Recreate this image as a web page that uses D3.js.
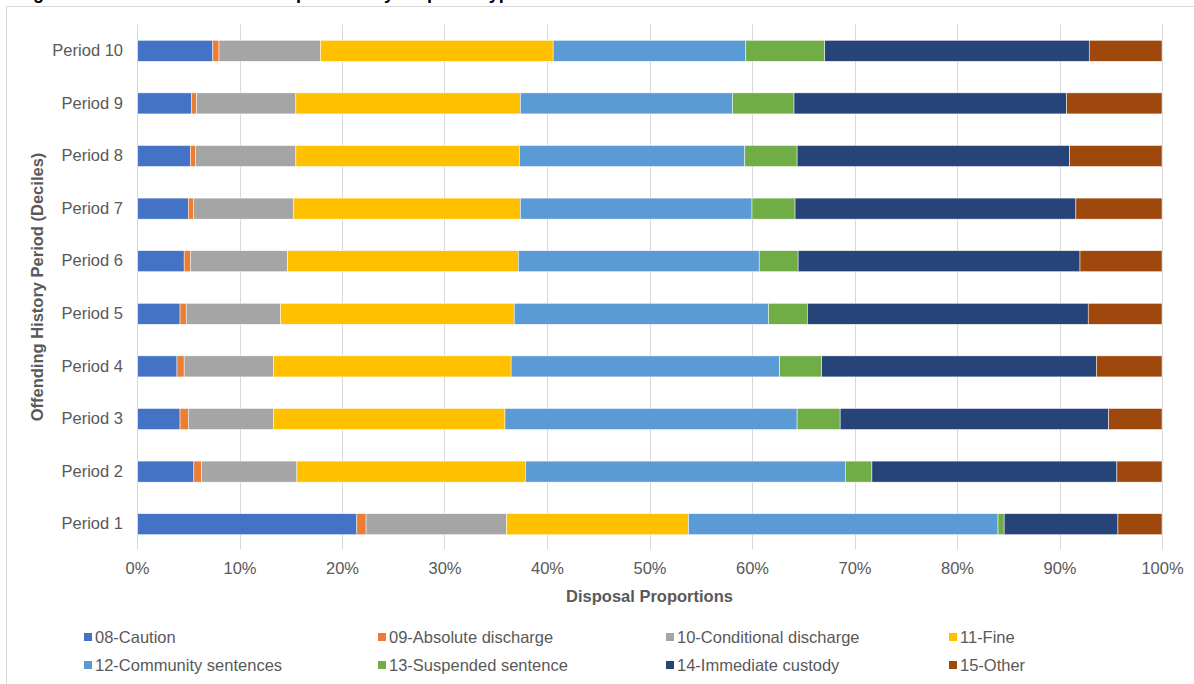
<!DOCTYPE html>
<html>
<head>
<meta charset="utf-8">
<script src="https://cdn.jsdelivr.net/npm/d3@7"></script>
<style>
  html, body { margin: 0; padding: 0; background: #fff; }
  svg { display: block; font-family: "Liberation Sans", Arial, sans-serif; }
</style>
</head>
<body>
<svg id="chart" width="1194" height="684"></svg>
<script>
// Offending history period (deciles), top to bottom
const periods = ["Period 10", "Period 9", "Period 8", "Period 7", "Period 6",
                 "Period 5", "Period 4", "Period 3", "Period 2", "Period 1"];

// Disposal types (series)
const disposals = ["08-Caution", "09-Absolute discharge", "10-Conditional discharge", "11-Fine",
                   "12-Community sentences", "13-Suspended sentence", "14-Immediate custody", "15-Other"];

// Share of disposals (%) per period, one array per disposal type, in the order of `periods`
const caution     = [7.4, 5.3, 5.2, 5.0, 4.6, 4.2, 3.9, 4.2, 5.55, 21.45];
const absolute    = [0.6, 0.5, 0.5, 0.5, 0.6, 0.6, 0.7, 0.8, 0.75, 0.9];
const conditional = [9.9, 9.7, 9.8, 9.8, 9.5, 9.2, 8.7, 8.3, 9.3, 13.7];
const fine        = [22.7, 21.9, 21.8, 22.1, 22.5, 22.8, 23.2, 22.6, 22.3, 17.75];
const community   = [18.8, 20.7, 22.0, 22.6, 23.5, 24.8, 26.2, 28.5, 31.2, 30.2];
const suspended   = [7.7, 6.0, 5.1, 4.2, 3.8, 3.8, 4.1, 4.2, 2.6, 0.6];
const custody     = [25.8, 26.6, 26.6, 27.4, 27.5, 27.4, 26.8, 26.2, 23.9, 11.1];
const other       = [7.1, 9.3, 9.0, 8.4, 8.0, 7.2, 6.4, 5.2, 4.4, 4.3];

const xTicks = [0, 10, 20, 30, 40, 50, 60, 70, 80, 90, 100];

const colors = ["#4472C4", "#ED7D31", "#A5A5A5", "#FFC000",
                "#5B9BD5", "#70AD47", "#264478", "#9E480E"];

const seriesValues = [caution, absolute, conditional, fine, community, suspended, custody, other];

// Build row objects for d3.stack
const rows = periods.map((p, i) => {
  const r = { period: p };
  disposals.forEach((d, k) => { r[d] = seriesValues[k][i]; });
  return r;
});

const stacked = d3.stack().keys(disposals)(rows);

const svg = d3.select("#chart");
const textColor = "#595959";
const gridColor = "#D9D9D9";

// Figure title (runs above the chart frame)
svg.append("text")
  .attr("x", 17).attr("y", -1.5)
  .attr("font-size", 18).attr("font-weight", "bold").attr("fill", "#000")
  .text("Figure 4: Sentence Outcome Proportions by Disposal Type");

// Chart frame
svg.append("rect")
  .attr("x", 6.5).attr("y", 6.5).attr("width", 1200).attr("height", 700)
  .attr("fill", "none").attr("stroke", gridColor).attr("stroke-width", 1);

const x = d3.scaleLinear().domain([0, 100]).range([137, 1162]);
const y = d3.scaleBand().domain(periods).range([24.5, 550.5]).paddingInner(0.6).paddingOuter(0.3);

// Vertical gridlines
svg.append("g").selectAll("line").data(xTicks).join("line")
  .attr("x1", d => Math.round(x(d)) + 0.5).attr("x2", d => Math.round(x(d)) + 0.5)
  .attr("y1", 24.5).attr("y2", 549.5)
  .attr("stroke", gridColor).attr("stroke-width", 1);

// Stacked bars
svg.append("g").selectAll("g").data(stacked).join("g")
  .attr("fill", (d, i) => colors[i])
  .selectAll("rect").data(d => d).join("rect")
  .attr("x", d => x(d[0]))
  .attr("width", d => x(d[1]) - x(d[0]))
  .attr("y", d => y(d.data.period))
  .attr("height", y.bandwidth())
  .attr("stroke", "#fff").attr("stroke-width", 0.5);

// X axis labels
const xAxis = d3.axisBottom(x).tickValues(xTicks).tickFormat(d => d + "%").tickSize(0);
const gx = svg.append("g").attr("transform", "translate(0,559)").call(xAxis);
gx.select(".domain").remove();
gx.selectAll("text").attr("font-size", 16.5).attr("fill", textColor)
  .attr("font-family", "Liberation Sans, Arial, sans-serif");

// Y axis labels
const yAxis = d3.axisLeft(y).tickSize(0).tickPadding(14);
const gy = svg.append("g").attr("transform", "translate(137,0)").call(yAxis);
gy.select(".domain").attr("stroke", gridColor).attr("d", "M0.5,24.5V549.5");
gy.selectAll("text").attr("font-size", 16.5).attr("fill", textColor)
  .attr("font-family", "Liberation Sans, Arial, sans-serif");

// Axis titles
svg.append("text")
  .attr("x", x(50)).attr("y", 602)
  .attr("text-anchor", "middle").attr("font-size", 16.5).attr("font-weight", "bold")
  .attr("fill", textColor).text("Disposal Proportions");

svg.append("text")
  .attr("transform", "translate(43,287) rotate(-90)")
  .attr("text-anchor", "middle").attr("font-size", 16.5).attr("font-weight", "bold")
  .attr("fill", textColor).text("Offending History Period (Deciles)");

// Legend: two rows of four
const legendCols = [84, 378, 666, 949];
const legendRows = [637, 665];
const legend = svg.append("g").selectAll("g").data(disposals).join("g")
  .attr("transform", (d, i) => `translate(${legendCols[i % 4]},${legendRows[Math.floor(i / 4)]})`);
legend.append("rect")
  .attr("x", 0).attr("y", -4).attr("width", 8).attr("height", 8)
  .attr("fill", (d, i) => colors[i]);
legend.append("text")
  .attr("x", 11).attr("y", 0).attr("dy", "0.35em")
  .attr("font-size", 16.5).attr("fill", textColor)
  .text(d => d);
</script>
</body>
</html>
